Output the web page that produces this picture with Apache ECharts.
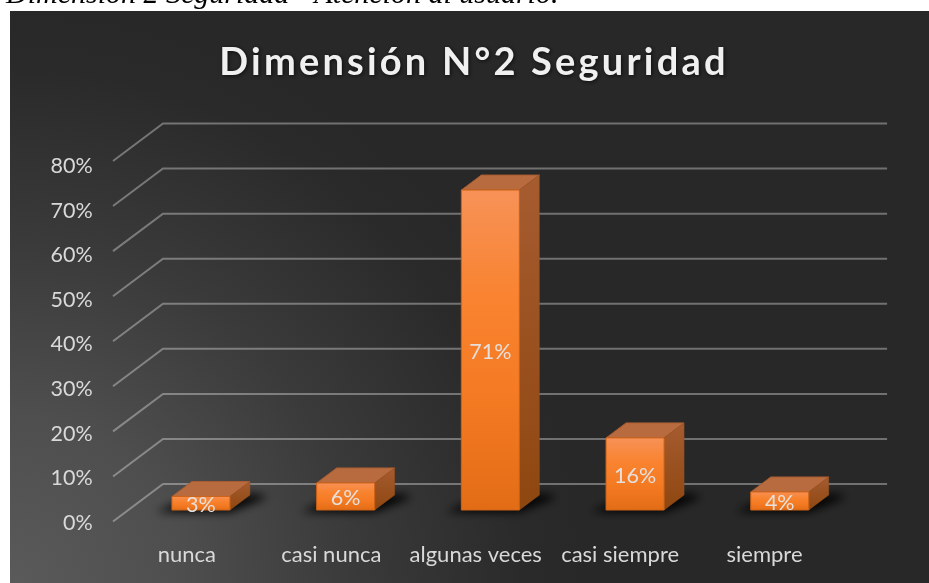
<!DOCTYPE html>
<html><head><meta charset="utf-8">
<style>html,body{margin:0;padding:0;background:#fff}#c{width:929px;height:583px}</style>
<script src="https://cdn.jsdelivr.net/npm/echarts@6/dist/echarts.min.js"></script>
</head><body><div id="c"></div>
<script>
var categories = ['nunca','casi nunca','algunas veces','casi siempre','siempre'];
var values = [3,6,71,16,4];
var ticks = [0,10,20,30,40,50,60,70,80];

var TITLE_FONT_SIZE = 38, TITLE_SPACING = '3.2px';
var fillTextOrig = CanvasRenderingContext2D.prototype.fillText;
CanvasRenderingContext2D.prototype.fillText = function(t,x,y,m){
  var isTitle = this.font.indexOf('bold') >= 0 && this.font.indexOf(TITLE_FONT_SIZE+'px') >= 0;
  this.letterSpacing = isTitle ? TITLE_SPACING : '0px';
  if (m === undefined) fillTextOrig.call(this,t,x,y); else fillTextOrig.call(this,t,x,y,m);
  this.letterSpacing = '0px';
};

var chart = echarts.init(document.getElementById('c'), null, {renderer:'canvas'});
var G = echarts.graphic;
var BAR_W = 58, DX = 20, DY = 15, OFF = 3000;

function lin(stops, x2, y2){
  return new G.LinearGradient(0,0,x2||0,y2===undefined?1:y2,stops.map(function(c,i){return {offset:i/(stops.length-1),color:c};}));
}

function renderGrid(params, api){
  var y = api.coord([0, api.value(0)])[1], cs = params.coordSys;
  return {type:'polyline', silent:true,
    shape:{points:[[cs.x-15.6,y+11.5],[cs.x+34.4,y-26],[cs.x+cs.width+35,y-26]]},
    style:{fill:null, stroke:'rgba(255,255,255,0.34)', lineWidth:2}};
}

function renderBar(params, api){
  var p = api.coord([api.value(0), api.value(1)]);
  var b = api.coord([api.value(0), 0]);
  var x = p[0]-BAR_W/2, t = p[1], y0 = b[1], w = BAR_W;
  var shadowPts = [[x-16,y0+2],[x+w,y0+2],[x+w+DX+18,y0-DY+2],[x+w+DX+6,y0-DY-1],[x+10,y0-DY+6]];
  var kids = [
    {type:'polygon', silent:true,
      shape:{points:shadowPts.map(function(q){return [q[0]-OFF,q[1]];})},
      style:{fill:'#000', shadowBlur:10, shadowColor:'rgba(0,0,0,1)', shadowOffsetX:OFF}},
    {type:'polygon', silent:true,
      shape:{points:[[x,t],[x+DX,t-DY],[x+w+DX,t-DY],[x+w,t]]},
      style:{fill:'#b96b40', stroke:'#a85c30', lineWidth:1}},
    {type:'polygon', silent:true,
      shape:{points:[[x+w,t],[x+w+DX,t-DY],[x+w+DX,y0-DY],[x+w,y0]]},
      style:{fill:lin(['#a65c30','#9a5120','#8f4710']), stroke:'#94501f', lineWidth:0.5}},
    {type:'rect', silent:true,
      shape:{x:x,y:t,width:w,height:y0-t},
      style:{fill:lin(['#f79258','#f98330','#f47a22','#e26c16']), stroke:'#cf6418', lineWidth:1}},
    {type:'text', silent:true,
      style:{x:x+w/2, y:(t+y0)/2+2, text:api.value(1)+'%', align:'center', verticalAlign:'middle',
        fill:'#e6e0dc', fontSize:21.5, fontFamily:'Lato'}}
  ];
  return {type:'group', children:kids};
}

chart.setOption({
  animation:false,
  backgroundColor:'#ffffff',
  title:{text:'Dimensión N°2 Seguridad', left:469, top:39, textAlign:'center',
    textStyle:{color:'#f0f0f0', fontSize:TITLE_FONT_SIZE, fontWeight:'bold', fontFamily:'Lato',
      textShadowColor:'rgba(0,0,0,0.7)', textShadowBlur:4, textShadowOffsetX:1, textShadowOffsetY:1}},
  graphic:[
    {type:'text', z:-2, left:6, top:-20, silent:true,
      style:{text:'Dimensión 2 Seguridad - Atención al usuario.', fill:'#000',
        fontSize:30, fontFamily:'Liberation Serif', fontStyle:'italic'}},
    {type:'rect', z:-1, silent:true, shape:{x:10,y:11,width:919,height:572},
      style:{fill:new G.RadialGradient(0,1,1,[
        {offset:0,color:'#5a5a5a'},{offset:0.3,color:'#4e4e4e'},{offset:0.6,color:'#3a3a3a'},{offset:0.9,color:'#2a2a2a'},{offset:1,color:'#282828'}])}}
  ],
  grid:[
    {left:114.7, top:166, width:722, height:357},
    {left:128.6, top:149.5, width:723.5, height:360.5}
  ],
  xAxis:[
    {type:'category', gridIndex:0, data:categories, axisLine:{show:false}, axisTick:{show:false},
      axisLabel:{color:'#d9d9d9', fontSize:22, fontFamily:'Lato', margin:21, interval:0}},
    {type:'category', gridIndex:1, data:categories, show:false}
  ],
  yAxis:[
    {type:'value', gridIndex:0, min:0, max:80, interval:10, axisLine:{show:false}, axisTick:{show:false}, splitLine:{show:false},
      axisLabel:{color:'#d9d9d9', fontSize:21.5, fontFamily:'Lato', margin:22, formatter:'{value}%'}},
    {type:'value', gridIndex:1, min:0, max:80, interval:10, show:false, splitLine:{show:false}}
  ],
  series:[
    {type:'custom', name:'grid', xAxisIndex:1, yAxisIndex:1, z:1, clip:false, silent:true,
      renderItem:renderGrid, encode:{y:0}, data:ticks.map(function(t){return [t];})},
    {type:'custom', name:'Seguridad', xAxisIndex:1, yAxisIndex:1, z:2, clip:false, silent:true,
      renderItem:renderBar, encode:{x:0,y:1}, data:values.map(function(v,i){return [i,v];})}
  ]
});
</script></body></html>
